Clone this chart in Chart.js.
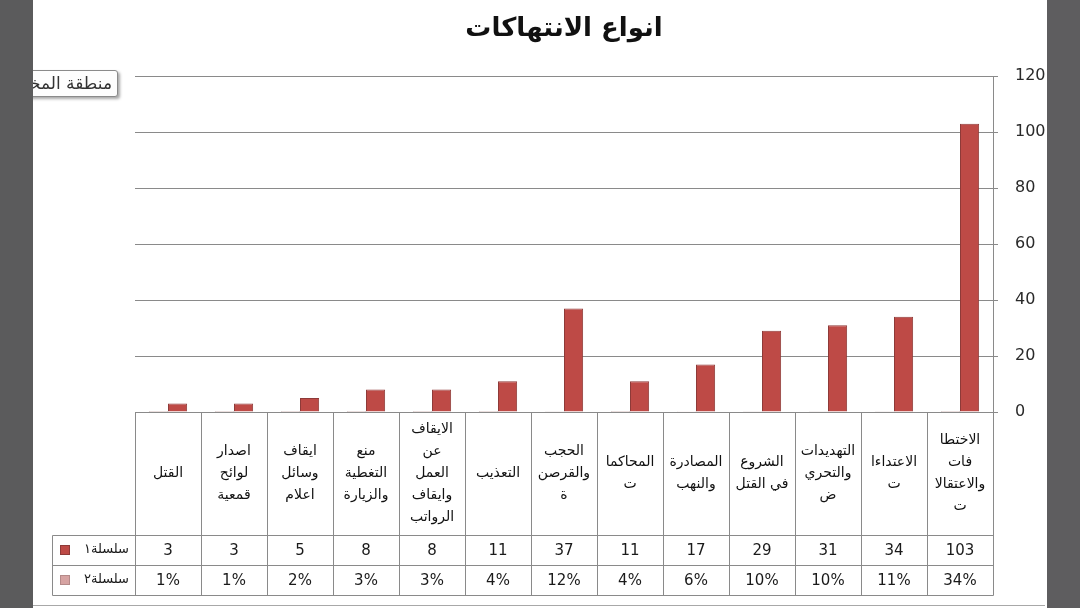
<!DOCTYPE html>
<html lang="ar">
<head>
<meta charset="utf-8">
<title>انواع الانتهاكات</title>
<script src="https://cdn.jsdelivr.net/npm/chart.js@4.4.1/dist/chart.umd.min.js"></script>
<style>
    body { margin: 0; background: #fff; }
    #wrap { position: relative; width: 1080px; height: 608px; overflow: hidden; background: #fff; }
    #chart { position: absolute; left: 0; top: 0; }
    .side { position: absolute; top: 0; width: 33px; height: 608px; background: #5b5b5c; z-index: 3; }
    #leftSide { left: 0; }
    #rightSide { left: 1047px; background: #5e5d5f; }
    #bottomLine { position: absolute; left: 33px; top: 605px; width: 1012px; height: 1px; background: #a8a8a8; }
    #areaTip {
        position: absolute; left: 4px; top: 70px; width: 114px; height: 27px;
        border: 1px solid #8a8a8a; border-radius: 3px; background: #fdfdfd;
        box-shadow: 2px 2px 3px rgba(0,0,0,0.35);
        font: 17px "DejaVu Sans", sans-serif; color: #333;
        direction: rtl; text-align: right; line-height: 25px; padding-right: 5px;
        box-sizing: border-box; white-space: nowrap; overflow: hidden; z-index: 2;
    }
</style>
</head>
<body>
<div id="wrap">
    <canvas id="chart" width="1080" height="608"></canvas>
    <div id="areaTip">منطقة المخطط</div>
    <div id="bottomLine"></div>
    <div class="side" id="leftSide"></div>
    <div class="side" id="rightSide"></div>
</div>
<script>
// categories in the sheet's right-to-left order, split into lines as in the table
const categories = [
    ['الاختطا', 'فات', 'والاعتقالا', 'ت'],
    ['الاعتداءا', 'ت'],
    ['التهديدات', 'والتحري', 'ض'],
    ['الشروع', 'في القتل'],
    ['المصادرة', 'والنهب'],
    ['المحاكما', 'ت'],
    ['الحجب', 'والقرصن', 'ة'],
    ['التعذيب'],
    ['الايقاف', 'عن', 'العمل', 'وايقاف', 'الرواتب'],
    ['منع', 'التغطية', 'والزيارة'],
    ['ايقاف', 'وسائل', 'اعلام'],
    ['اصدار', 'لوائح', 'قمعية'],
    ['القتل']
];
const seriesNames = ['سلسلة١', 'سلسلة٢'];
const series1 = [103, 34, 31, 29, 17, 11, 37, 11, 8, 8, 5, 3, 3];
const series2 = [0.34, 0.11, 0.10, 0.10, 0.06, 0.04, 0.12, 0.04, 0.03, 0.03, 0.02, 0.01, 0.01];
const yTicks = [0, 20, 40, 60, 80, 100, 120];

const gridColor = '#8a8a8a';
const colors = ['#be4a46', '#d6a3a2'];

// data table under the plot, columns taken from the x scale
const dataTable = {
    id: 'dataTable',
    afterDraw(chart) {
        const ctx = chart.ctx;
        const a = chart.chartArea;
        const x = chart.scales.x;
        const n = categories.length;
        const colW = a.width / n;
        const top = a.bottom;
        const r1 = top + 123, r2 = r1 + 30, r3 = r2 + 30;
        const legendLeft = 52;
        const px = v => Math.round(v) + 0.5;

        ctx.save();
        ctx.strokeStyle = gridColor;
        ctx.lineWidth = 1;
        ctx.beginPath();
        // horizontal rules
        ctx.moveTo(px(a.left), px(top)); ctx.lineTo(px(a.right), px(top));
        [r1, r2, r3].forEach(y => { ctx.moveTo(px(legendLeft), px(y)); ctx.lineTo(px(a.right), px(y)); });
        // vertical rules
        for (let i = 0; i < n; i++) {
            const c = x.getPixelForValue(i);
            [c - colW / 2, c + colW / 2].forEach(e => { ctx.moveTo(px(e), px(top)); ctx.lineTo(px(e), px(r3)); });
        }
        ctx.moveTo(px(legendLeft), px(r1)); ctx.lineTo(px(legendLeft), px(r3));
        ctx.stroke();

        ctx.fillStyle = '#111';
        ctx.textAlign = 'center';
        ctx.textBaseline = 'middle';
        // category names
        ctx.direction = 'rtl';
        ctx.font = '14px "DejaVu Sans", sans-serif';
        const lh = 22;
        categories.forEach((lines, i) => {
            const c = x.getPixelForValue(i);
            const y0 = (top + r1) / 2 - (lines.length - 1) * lh / 2;
            lines.forEach((t, k) => ctx.fillText(t, c, y0 + k * lh));
        });
        // values
        ctx.direction = 'ltr';
        ctx.font = '15px "DejaVu Sans", sans-serif';
        ctx.fillStyle = '#1a1a1a';
        series1.forEach((v, i) => ctx.fillText(String(v), x.getPixelForValue(i), (r1 + r2) / 2 + 1));
        series2.forEach((v, i) => ctx.fillText(Math.round(v * 100) + '%', x.getPixelForValue(i), (r2 + r3) / 2 + 1));
        // legend keys
        [r1, r2].forEach((ry, k) => {
            const cy = ry + 15;
            ctx.fillStyle = colors[k];
            ctx.fillRect(60, cy - 5, 10, 10);
            ctx.strokeStyle = k === 0 ? '#8e3a38' : '#b48a89';
            ctx.strokeRect(60.5, cy - 4.5, 9, 9);
            ctx.fillStyle = '#1a1a1a';
            ctx.direction = 'rtl';
            ctx.textAlign = 'right';
            ctx.font = '13px "DejaVu Sans", sans-serif';
            ctx.fillText(seriesNames[k], 129, cy);
        });
        ctx.restore();
    }
};

const ctx = document.getElementById('chart').getContext('2d');
new Chart(ctx, {
    type: 'bar',
    data: {
        labels: categories,
        datasets: [
            { label: seriesNames[0], data: series1, order: 1, backgroundColor: colors[0], borderColor: '#8e3a38', borderWidth: 1 },
            { label: seriesNames[1], data: series2, order: 0, backgroundColor: colors[1], borderColor: '#6e4a49', borderWidth: 1 }
        ]
    },
    options: {
        responsive: false,
        animation: false,
        categoryPercentage: 0.58,
        barPercentage: 1.0,
        layout: { padding: { left: 135, right: 0, top: 0, bottom: 196 } },
        scales: {
            x: { type: 'category', reverse: true, display: false },
            y: {
                position: 'right',
                min: 0,
                max: 120,
                afterBuildTicks: s => { s.ticks = yTicks.map(v => ({ value: v })); },
                afterFit: s => { s.width = 87; },
                grid: { color: gridColor, tickLength: 5, drawTicks: true },
                border: { color: gridColor },
                ticks: { padding: 17, color: '#2a2a2a', font: { family: 'DejaVu Sans', size: 16 } }
            }
        },
        plugins: {
            legend: { display: false },
            tooltip: { enabled: false },
            title: {
                display: true,
                fullSize: false,
                text: 'انواع الانتهاكات',
                color: '#111',
                font: { family: 'DejaVu Sans', size: 26, weight: 'bold' },
                padding: { top: 14, bottom: 31 }
            }
        }
    },
    plugins: [dataTable]
});
</script>
</body>
</html>
